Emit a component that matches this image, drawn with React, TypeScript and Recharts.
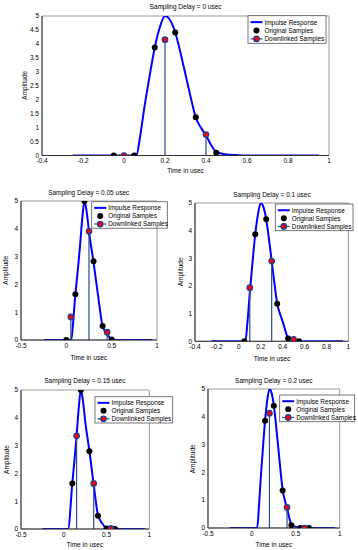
import React from "react";
import {
  ComposedChart, Line, Scatter, XAxis, YAxis, ReferenceLine, ReferenceArea,
} from "recharts";

const FONT = "'Liberation Sans', Arial, Helvetica, sans-serif";

// impulse response traces (A: delay 0 / 0.1 / 0.2 panels, B: delay 0.05 / 0.15 panels)
const curveATime = [-0.25, 0.06, 0.08, 0.1, 0.125, 0.15, 0.175, 0.2, 0.225, 0.25, 0.275, 0.3, 0.325, 0.35, 0.375, 0.4, 0.425, 0.45, 0.475, 0.5, 0.55, 0.6, 0.95];
const curveAAmp = [0, 0, 0.75, 1.75, 2.85, 3.87, 4.6, 5.0, 4.85, 4.41, 3.7, 2.9, 2.1, 1.37, 1.0, 0.72, 0.38, 0.12, 0.07, 0.04, 0.015, 0, 0];
const curveBTime = [-0.25, 0.05, 0.1, 0.15, 0.175, 0.2, 0.225, 0.25, 0.3, 0.35, 0.4, 0.45, 0.5, 0.55, 0.95];
const curveBAmp = [0, 0, 1.65, 3.35, 4.35, 5.0, 4.6, 3.9, 2.8, 1.6, 0.5, 0.2, 0.03, 0, 0];

// original samples (black) and downlinked samples (red stems), per delay
const orig0T = [-0.05, 0.05, 0.15, 0.25, 0.35, 0.45];
const orig0A = [0, 0, 3.87, 4.41, 1.37, 0.1];
const down0T = [0, 0.2, 0.4];
const down0A = [0, 4.15, 0.75];

const orig05T = [0, 0.1, 0.2, 0.3, 0.4, 0.5];
const orig05A = [0, 1.65, 5.0, 2.83, 0.5, 0.02];
const down05T = [0.05, 0.25, 0.45];
const down05A = [0.83, 3.91, 0.28];

const orig10T = [0.05, 0.15, 0.25, 0.35, 0.45, 0.55];
const orig10A = [0, 3.87, 4.41, 1.36, 0.1, 0];
const down10T = [0.1, 0.3, 0.5];
const down10A = [1.94, 2.9, 0.07];

const orig15T = [0.1, 0.2, 0.3, 0.4, 0.5, 0.6];
const orig15A = [1.64, 5.0, 2.8, 0.48, 0.02, 0];
const down15T = [0.15, 0.35, 0.55];
const down15A = [3.35, 1.64, 0.02];

const orig20T = [0.15, 0.25, 0.35, 0.45, 0.55, 0.65];
const orig20A = [3.86, 4.4, 1.35, 0.1, 0, 0];
const down20T = [0.2, 0.4, 0.6];
const down20A = [4.13, 0.74, 0];

const ticksFine = [-0.4, -0.2, 0, 0.2, 0.4, 0.6, 0.8, 1];
const ticksCoarse = [-0.5, 0, 0.5, 1];
const ampTicksHalf = [0, 0.5, 1, 1.5, 2, 2.5, 3, 3.5, 4, 4.5, 5];
const ampTicks = [0, 1, 2, 3, 4, 5];

const legendNames = ["Impulse Response", "Original Samples", "Downlinked Samples"];

const zip = (t: number[], a: number[]) => t.map((v, i) => ({ t: v, amp: a[i] }));

const panels = [
  { delay: "0", curve: zip(curveATime, curveAAmp), orig: zip(orig0T, orig0A), down: zip(down0T, down0A),
    x0: 42, y0: 15.5, x1: 329, y1: 155, xDomain: [-0.4, 1], xTicks: ticksFine, yTicks: ampTicksHalf,
    titleY: 6, xlabY: 170.5, ylabX: 24, leg: { x: 248, y: 15.7, w: 78, h: 27.6 } },
  { delay: "0.05", curve: zip(curveBTime, curveBAmp), orig: zip(orig05T, orig05A), down: zip(down05T, down05A),
    x0: 20.7, y0: 200.7, x1: 156.7, y1: 339.7, xDomain: [-0.5, 1], xTicks: ticksCoarse, yTicks: ampTicks,
    titleY: 192.3, xlabY: 357.3, ylabX: 5.7, leg: { x: 91.7, y: 201.7, w: 75.6, h: 26.5 } },
  { delay: "0.1", curve: zip(curveATime, curveAAmp), orig: zip(orig10T, orig10A), down: zip(down10T, down10A),
    x0: 195.3, y0: 202.7, x1: 348.7, y1: 341, xDomain: [-0.4, 1], xTicks: ticksFine, yTicks: ampTicks,
    titleY: 194, xlabY: 358, ylabX: 180.7, leg: { x: 275.3, y: 204, w: 77.7, h: 26.7 } },
  { delay: "0.15", curve: zip(curveBTime, curveBAmp), orig: zip(orig15T, orig15A), down: zip(down15T, down15A),
    x0: 20.7, y0: 390, x1: 149, y1: 529, xDomain: [-0.5, 1], xTicks: ticksCoarse, yTicks: ampTicks,
    titleY: 380, xlabY: 544.3, ylabX: 6.7, leg: { x: 95, y: 396.7, w: 77.7, h: 26.3 } },
  { delay: "0.2", curve: zip(curveATime, curveAAmp), orig: zip(orig20T, orig20A), down: zip(down20T, down20A),
    x0: 208, y0: 389.3, x1: 339.7, y1: 528.3, xDomain: [-0.5, 1], xTicks: ticksCoarse, yTicks: ampTicks,
    titleY: 380, xlabY: 544, ylabX: 192.3, leg: { x: 279.7, y: 395, w: 75, h: 26.7 } },
];

const tickStyle = { fontSize: 6.5, fill: "#000", fontFamily: FONT };

function BlackDot(props: any) {
  return <circle cx={props.cx} cy={props.cy} r={3} fill="#000" />;
}

function RedDot(props: any) {
  return <circle cx={props.cx} cy={props.cy} r={2.7} fill="#ff0000" stroke="#1f3f8f" strokeWidth={1.3} />;
}

function Panel({ p }: { p: any }) {
  const padL = 24, padT = 6, padR = 6, padB = 14;
  const w = p.x1 - p.x0 + padL + padR;
  const h = p.y1 - p.y0 + padT + padB;
  return (
    <div style={{ position: "absolute", left: p.x0 - padL, top: p.y0 - padT }}>
      <ComposedChart width={w} height={h} margin={{ top: padT, right: padR, bottom: 0, left: 0 }}>
        <ReferenceArea x1={p.xDomain[0]} x2={p.xDomain[1]} y1={0} y2={5} fill="none" stroke="#9a9a9a" ifOverflow="visible" />
        <XAxis type="number" dataKey="t" domain={p.xDomain} ticks={p.xTicks} interval={0} allowDataOverflow
          height={padB} tickLine={false} tickSize={2} tickMargin={1} tick={tickStyle} axisLine={{ stroke: "#333" }} />
        <YAxis type="number" dataKey="amp" domain={[0, 5]} ticks={p.yTicks} interval={0} allowDataOverflow
          width={padL} tickLine={false} tickSize={2} tickMargin={1} tick={tickStyle} axisLine={{ stroke: "#333" }} />
        <Line data={p.curve} dataKey="amp" type="monotone" stroke="#0000ff" strokeWidth={2}
          dot={false} isAnimationActive={false} />
        {p.down.map((d: any, i: number) => (
          <ReferenceLine key={i} segment={[{ x: d.t, y: 0 }, { x: d.t, y: d.amp }]}
            stroke="#2b4c8c" strokeWidth={1.2} ifOverflow="visible" />
        ))}
        <Scatter data={p.orig} dataKey="amp" shape={<BlackDot />} isAnimationActive={false} />
        <Scatter data={p.down} dataKey="amp" shape={<RedDot />} isAnimationActive={false} />
      </ComposedChart>
    </div>
  );
}

function Legend({ x, y, w, h }: { x: number; y: number; w: number; h: number }) {
  const rows = [6.3, 14.5, 22.7].map((r) => y + r * (h / 27));
  const mx = x + 8.5;
  return (
    <g>
      <rect x={x} y={y} width={w} height={h} fill="#fff" stroke="#555" strokeWidth={0.8} />
      <line x1={x + 2.5} x2={x + 14.5} y1={rows[0]} y2={rows[0]} stroke="#0000ff" strokeWidth={2} />
      <circle cx={mx} cy={rows[1]} r={3} fill="#000" />
      <line x1={x + 2.5} x2={x + 14.5} y1={rows[2]} y2={rows[2]} stroke="#2b4c8c" strokeWidth={1.2} />
      <circle cx={mx} cy={rows[2]} r={2.7} fill="#ff0000" stroke="#1f3f8f" strokeWidth={1.3} />
      {legendNames.map((n, i) => (
        <text key={n} x={x + 16.5} y={rows[i]} dominantBaseline="central" fontSize={6.4} fontFamily={FONT} fill="#000">{n}</text>
      ))}
    </g>
  );
}

export default function App() {
  return (
    <div style={{ position: "absolute", left: 0, top: 0, width: 358, height: 550, background: "#fff" }}>
      {panels.map((p) => <Panel key={p.delay} p={p} />)}
      <svg width={358} height={550} style={{ position: "absolute", left: 0, top: 0, pointerEvents: "none" }}>
        {panels.map((p) => {
          const cx = (p.x0 + p.x1) / 2;
          const cy = (p.y0 + p.y1) / 2;
          return (
            <g key={p.delay} fontFamily={FONT} fontSize={6.5} fill="#000">
              <text x={cx} y={p.titleY} textAnchor="middle" dominantBaseline="central">{`Sampling Delay = ${p.delay} usec`}</text>
              <text x={cx} y={p.xlabY} textAnchor="middle" dominantBaseline="central">Time in usec</text>
              <text x={p.ylabX} y={cy} textAnchor="middle" dominantBaseline="central"
                transform={`rotate(-90 ${p.ylabX} ${cy})`}>Amplitude</text>
              <Legend {...p.leg} />
            </g>
          );
        })}
      </svg>
    </div>
  );
}
